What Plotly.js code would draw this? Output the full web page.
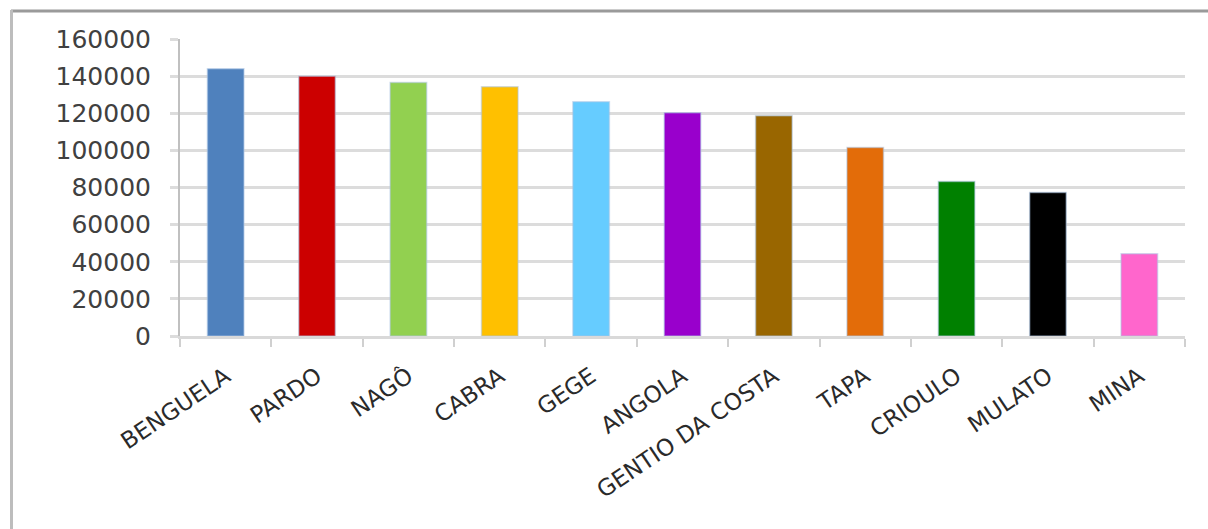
<!DOCTYPE html>
<html>
<head>
<meta charset="utf-8">
<script src="https://cdn.plot.ly/plotly-3.0.1.min.js"></script>
<style>
html,body{margin:0;padding:0;background:#fff;}
#chart{width:1208px;height:529px;}
</style>
</head>
<body>
<div id="chart"></div>
<script>
const categories = ["BENGUELA","PARDO","NAGÔ","CABRA","GEGE","ANGOLA","GENTIO DA COSTA","TAPA","CRIOULO","MULATO","MINA"];
const values = [144000,140000,136500,134300,126200,120300,118700,101500,83200,77300,44300];
const barColors = ["#4f81bd","#cc0000","#92d050","#ffc000","#66ccff","#9900cc","#996600","#e36c09","#008000","#000000","#ff66cc"];
const yTickVals = [0,20000,40000,60000,80000,100000,120000,140000,160000];
const yTickText = ["0","20000","40000","60000","80000","100000","120000","140000","160000"];

const W = 1208, H = 529;
const m = {l:180, r:23, t:39, b:193};
const pw = W - m.l - m.r, ph = H - m.t - m.b;
const px = x => (x - m.l) / pw;
const py = y => (H - m.b - y) / ph;

const trace = {
  type: "bar",
  x: categories,
  y: values,
  marker: {color: barColors, line: {color: "rgba(170,196,228,0.5)", width: 1.5}},
  hoverinfo: "x+y"
};

const layout = {
  width: W, height: H,
  margin: m,
  paper_bgcolor: "#ffffff",
  plot_bgcolor: "#ffffff",
  showlegend: false,
  bargap: 0.6,
  font: {family: "DejaVu Sans", color: "#404040"},
  xaxis: {
    type: "category",
    tickangle: -34,
    tickfont: {family: "DejaVu Sans", size: 23, color: "#2a2a2a"},
    showline: true, linecolor: "#d9d9d9", linewidth: 3,
    ticks: "outside", tickson: "boundaries", ticklen: 8, tickcolor: "#d0d0d0", tickwidth: 2,
    ticklabelstandoff: 15,
    showgrid: false, zeroline: false,
    range: [-0.5, 10.5]
  },
  yaxis: {
    range: [0, 160000],
    tickvals: yTickVals, ticktext: yTickText,
    tickfont: {family: "DejaVu Sans", size: 25, color: "#404040"},
    showgrid: true, gridcolor: "#dcdcdc", gridwidth: 3,
    showline: true, linecolor: "#c0c0c0", linewidth: 2,
    ticks: "outside", ticklen: 8, tickcolor: "#dcdcdc", tickwidth: 3,
    ticklabelstandoff: 14,
    zeroline: false
  },
  shapes: [
    {type: "line", xref: "paper", yref: "paper", x0: px(11), x1: px(1210), y0: py(11), y1: py(11), line: {color: "#9a9a9a", width: 3}},
    {type: "line", xref: "paper", yref: "paper", x0: px(11.5), x1: px(11.5), y0: py(10), y1: py(531), line: {color: "#bdbdbd", width: 3}}
  ]
};

Plotly.newPlot("chart", [trace], layout, {displayModeBar: false, staticPlot: true});
</script>
</body>
</html>
